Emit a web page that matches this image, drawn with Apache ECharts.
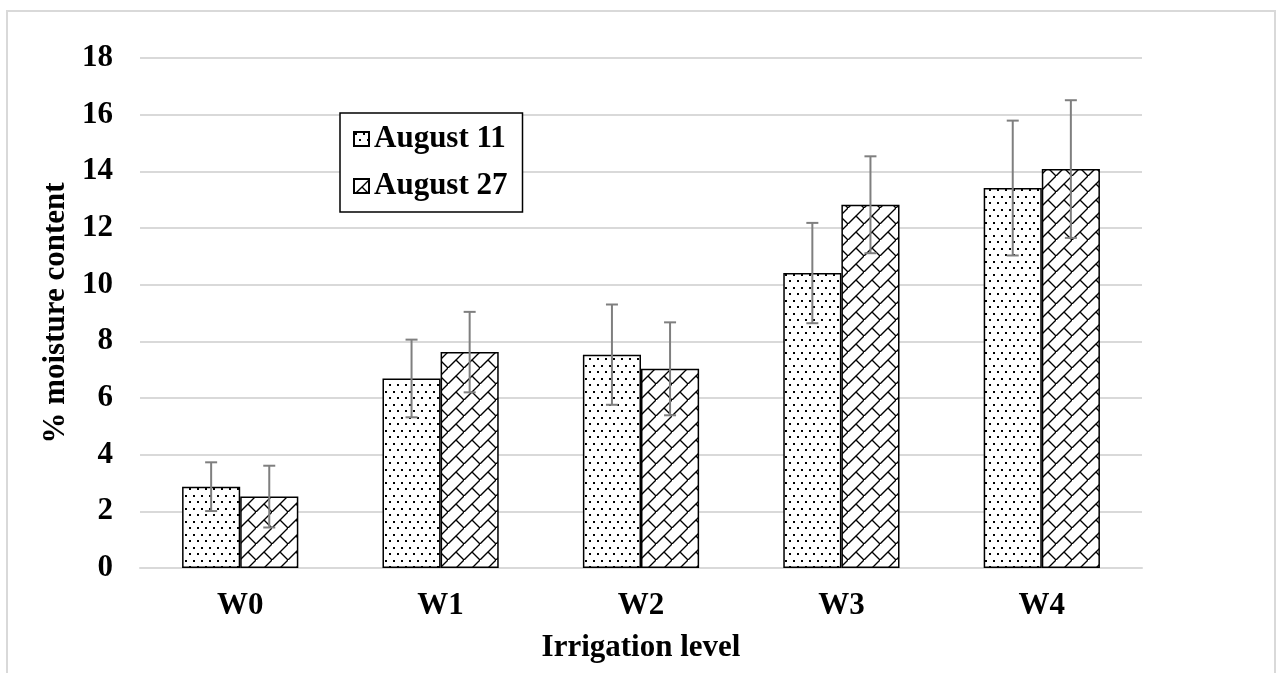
<!DOCTYPE html>
<html>
<head>
<meta charset="utf-8">
<script src="https://cdn.jsdelivr.net/npm/echarts@6/dist/echarts.min.js"></script>
<style>html,body{margin:0;padding:0;background:#fff;}#chart{width:1277px;height:673px;}</style>
</head>
<body>
<div id="chart"></div>
<script>
const categories = ['W0', 'W1', 'W2', 'W3', 'W4'];
const aug11 = [2.87, 6.69, 7.53, 10.41, 13.41];
const aug11Err = [0.86, 1.37, 1.77, 1.77, 2.38];
const aug27 = [2.52, 7.62, 7.03, 12.82, 14.08];
const aug27Err = [1.09, 1.42, 1.64, 1.71, 2.43];
const seriesNames = ['August 11', 'August 27'];
const yMin = 0, yMax = 18, yStep = 2;

function dotPattern() {
  const c = document.createElement('canvas');
  c.width = 8; c.height = 13;
  const g = c.getContext('2d');
  g.fillStyle = '#fff'; g.fillRect(0, 0, 8, 13);
  g.fillStyle = '#000';
  g.fillRect(1, 1, 2, 2);
  g.fillRect(5, 7, 2, 2);
  return c;
}
function brickPattern() {
  const s = 16;
  const c = document.createElement('canvas');
  c.width = s; c.height = s;
  const g = c.getContext('2d');
  g.fillStyle = '#fff'; g.fillRect(0, 0, s, s);
  g.strokeStyle = '#000'; g.lineWidth = 1.4; g.lineCap = 'square';
  g.beginPath();
  g.moveTo(-2, s + 2); g.lineTo(s + 2, -2);
  g.moveTo(s / 2, s / 2); g.lineTo(s, s);
  g.stroke();
  return c;
}

const chart = echarts.init(document.getElementById('chart'));
const font = 'Liberation Serif';
const fs = 31;

function errSeries(name, means, errs, sign) {
  return {
    type: 'custom',
    name: name + ' err',
    z: 10,
    silent: true,
    encode: { x: 0, y: [1, 2] },
    data: means.map((m, i) => [i, m - errs[i], m + errs[i]]),
    renderItem: function (params, api) {
      const idx = api.value(0);
      const band = api.size([1, 0])[0];
      const off = band * 0.145 * sign;
      const top = api.coord([idx, api.value(2)]);
      const bot = api.coord([idx, api.value(1)]);
      const x = top[0] + off;
      const cap = 6;
      const st = { stroke: '#7f7f7f', lineWidth: 2 };
      return {
        type: 'group',
        children: [
          { type: 'line', shape: { x1: x, y1: top[1], x2: x, y2: bot[1] }, style: st },
          { type: 'line', shape: { x1: x - cap, y1: top[1], x2: x + cap, y2: top[1] }, style: st },
          { type: 'line', shape: { x1: x - cap, y1: bot[1], x2: x + cap, y2: bot[1] }, style: st }
        ]
      };
    }
  };
}

chart.setOption({
  backgroundColor: '#fff',
  animation: false,
  graphic: [{
    type: 'rect', silent: true,
    shape: { x: 7, y: 11, width: 1268, height: 700 },
    style: { fill: 'none', stroke: '#d9d9d9', lineWidth: 2 }
  }],
  grid: { left: 140, right: 135, top: 58, bottom: 105, outerBoundsMode: 'none', containLabel: false },
  legend: {
    data: seriesNames,
    orient: 'vertical',
    left: 340, top: 113,
    icon: 'rect',
    itemWidth: 15, itemHeight: 14,
    itemGap: 15,
    padding: [10, 15, 10, 13],
    borderColor: '#000', borderWidth: 1.5,
    backgroundColor: '#fff',
    textStyle: { fontFamily: font, fontWeight: 'bold', fontSize: fs, color: '#000', lineHeight: 32 }
  },
  xAxis: {
    type: 'category',
    data: categories,
    name: 'Irrigation level',
    nameLocation: 'middle',
    nameGap: 64,
    nameTextStyle: { fontFamily: font, fontWeight: 'bold', fontSize: fs, color: '#000' },
    axisLine: { show: true, lineStyle: { color: '#d9d9d9', width: 2 } },
    axisTick: { show: false },
    axisLabel: { fontFamily: font, fontWeight: 'bold', fontSize: fs, color: '#000', margin: 22 }
  },
  yAxis: {
    type: 'value',
    min: yMin, max: yMax, interval: yStep,
    name: '% moisture content',
    nameLocation: 'middle',
    nameRotate: 90,
    nameGap: 57,
    nameTextStyle: { fontFamily: font, fontWeight: 'bold', fontSize: fs, color: '#000' },
    axisLine: { show: false },
    axisTick: { show: false },
    axisLabel: { fontFamily: font, fontWeight: 'bold', fontSize: fs, color: '#000', margin: 27 },
    splitLine: { lineStyle: { color: '#d9d9d9', width: 2 } }
  },
  series: [
    {
      name: seriesNames[0], type: 'bar', data: aug11,
      barGap: '0%', barCategoryGap: '42%',
      itemStyle: { color: { image: dotPattern(), repeat: 'repeat' }, borderColor: '#000', borderWidth: 1.5 }
    },
    {
      name: seriesNames[1], type: 'bar', data: aug27,
      barGap: '0%', barCategoryGap: '42%',
      itemStyle: { color: { image: brickPattern(), repeat: 'repeat' }, borderColor: '#000', borderWidth: 1.5 }
    },
    errSeries(seriesNames[0], aug11, aug11Err, -1),
    errSeries(seriesNames[1], aug27, aug27Err, 1)
  ]
});
</script>
</body>
</html>
